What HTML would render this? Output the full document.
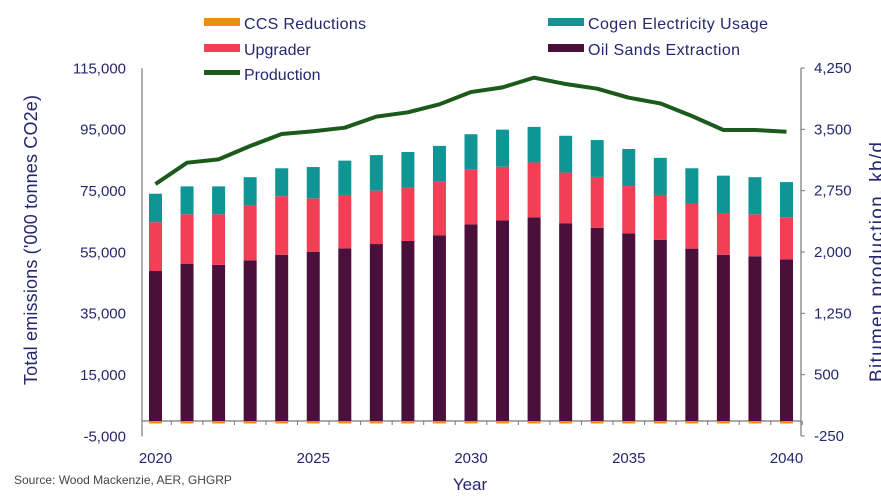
<!DOCTYPE html>
<html><head><meta charset="utf-8"><style>
body{margin:0;background:#fff;}
svg{display:block;font-family:"Liberation Sans Narrow","Liberation Sans",sans-serif;}
</style></head><body>
<svg id="chart" width="881" height="497" viewBox="0 0 881 497">
<g font-size="16" fill="#26266e">
 <g><rect x="204" y="18" width="36" height="8" fill="#f28a1a"/><text x="244" y="29" textLength="122">CCS Reductions</text></g>
 <g><rect x="548" y="18" width="36" height="8" fill="#109595"/><text x="588" y="29" textLength="180">Cogen Electricity Usage</text></g>
 <g><rect x="204" y="44" width="36" height="8" fill="#f23f55"/><text x="244" y="55">Upgrader</text></g>
 <g><rect x="548" y="44" width="36" height="8" fill="#4a0f3b"/><text x="588" y="55" textLength="152">Oil Sands Extraction</text></g>
 <g><rect x="204" y="70" width="36" height="5" fill="#1c5a1c"/><text x="244" y="80">Production</text></g>
</g>
<g id="axes"></g>
<g id="bars"></g>
<g id="line"></g>
<text x="0" y="0" transform="translate(37,240) rotate(-90)" text-anchor="middle" font-size="18" fill="#26266e" textLength="290">Total emissions ('000 tonnes CO2e)</text>
<text x="0" y="0" transform="translate(883,262) rotate(-90)" text-anchor="middle" font-size="19" fill="#26266e" textLength="240">Bitumen production, kb/d</text>
<text x="470" y="490" text-anchor="middle" font-size="17" fill="#26266e">Year</text>
<text x="14" y="484" font-size="12" fill="#444" font-family="Liberation Sans, sans-serif">Source: Wood Mackenzie, AER, GHGRP</text>
</svg>
<script>
const years=[2020,2021,2022,2023,2024,2025,2026,2027,2028,2029,2030,2031,2032,2033,2034,2035,2036,2037,2038,2039,2040];
const extraction=[48.9,51.3,50.9,52.4,54.2,55.2,56.3,57.7,58.7,60.5,64.1,65.4,66.4,64.4,63.0,61.2,59.1,56.2,54.2,53.7,52.7];
const upgrader=[15.9,16.1,16.5,17.9,19.1,17.4,17.4,17.4,17.4,17.5,17.8,17.5,17.9,16.6,16.6,15.4,14.6,14.7,13.6,13.7,13.7];
const cogen=[9.3,9.1,9.1,9.2,9.1,10.2,11.2,11.6,11.6,11.7,11.6,12.1,11.6,12.0,12.0,12.1,12.1,11.5,12.2,12.1,11.5];
const ccs=[-0.8,-0.8,-0.8,-0.8,-0.8,-0.8,-0.8,-0.8,-0.8,-0.8,-0.8,-0.8,-0.8,-0.8,-0.8,-0.8,-0.8,-0.8,-0.8,-0.8,-0.8];
const production=[2831,3092,3133,3296,3443,3476,3520,3655,3708,3806,3956,4013,4132,4054,3997,3887,3817,3663,3492,3492,3471];
const leftTicks=[-5000,15000,35000,55000,75000,95000,115000];
const rightTicks=[-250,500,1250,2000,2750,3500,4250];
const xLabels=[2020,2025,2030,2035,2040];

const NS="http://www.w3.org/2000/svg";
const yL=v=>421-v*0.003067;
const yK=v=>yL(v*1000);
const yR=p=>436-(p+250)*(368/4500);
const x=yr=>155.5+(yr-2020)*31.55;
function mk(tag,attrs,parent){const e=document.createElementNS(NS,tag);for(const k in attrs)e.setAttribute(k,attrs[k]);parent.appendChild(e);return e;}
const axes=document.getElementById('axes'),bars=document.getElementById('bars'),line=document.getElementById('line');

let a=mk('line',{x1:142,x2:142,y1:yL(115000),y2:yL(-5000),stroke:'#777','stroke-width':1.2},axes);

a=mk('line',{x1:801,x2:801,y1:yR(4250),y2:yR(-250),stroke:'#777','stroke-width':1.2},axes);

a=mk('line',{x1:142,x2:801,y1:yL(0),y2:yL(0),stroke:'#777','stroke-width':1.2},axes);

leftTicks.forEach(v=>{
 const t=mk('text',{x:126,y:yL(v)+5,'text-anchor':'end','font-size':15,fill:'#26266e'},axes);
 t.textContent=v.toLocaleString('en-US');
 
});
rightTicks.forEach(v=>{
 mk('line',{x1:801,x2:805,y1:yR(v),y2:yR(v),stroke:'#777'},axes);
 const t=mk('text',{x:814,y:yR(v)+5,'font-size':15,fill:'#26266e'},axes);
 t.textContent=v.toLocaleString('en-US');
 
});
years.forEach(yr=>{mk('line',{x1:x(yr)+15.8,x2:x(yr)+15.8,y1:yL(0),y2:yL(0)+4,stroke:'#777'},axes);});
xLabels.forEach(yr=>{
 const t=mk('text',{x:x(yr),y:463,'text-anchor':'middle','font-size':15,fill:'#26266e'},axes);
 t.textContent=yr;
 
});
const bw=13;
years.forEach((yr,i)=>{
 const cx=x(yr);
 let base=0;
 [[extraction[i],'#4a0f3b','bar-extraction'],[upgrader[i],'#f23f55','bar-upgrader'],[cogen[i],'#109595','bar-cogen']].forEach(([v,c,n])=>{
  const r=mk('rect',{x:cx-bw/2,y:yK(base+v),width:bw,height:yK(base)-yK(base+v),fill:c},bars);
  
  base+=v;
 });
 const r=mk('rect',{x:cx-bw/2,y:yK(0),width:bw,height:yK(ccs[i])-yK(0),fill:'#f28a1a'},bars);
 
});
const pts=years.map((yr,i)=>x(yr)+','+yR(production[i])).join(' ');
const pl=mk('polyline',{points:pts,fill:'none',stroke:'#1c5a1c','stroke-width':4,'stroke-linejoin':'round'},line);

</script>
</body></html>
